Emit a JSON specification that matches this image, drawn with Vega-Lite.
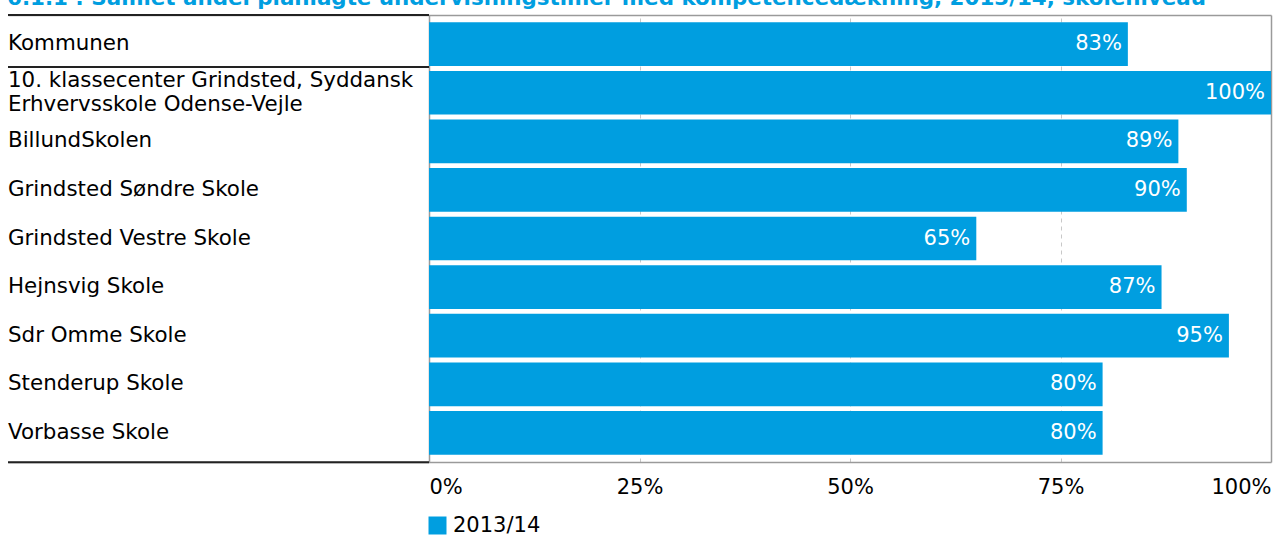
{
  "$schema": "https://vega.github.io/schema/vega-lite/v6.json",
  "autosize": {"type": "none"},
  "width": 1263,
  "height": 447,
  "padding": {"left": 8, "top": 15, "right": 2, "bottom": 76},
  "background": "white",
  "title": {
    "text": "6.1.1 : Samlet andel planlagte undervisningstimer med kompetencedækning, 2013/14, skoleniveau",
    "anchor": "start",
    "font": "DejaVu Sans",
    "fontSize": 21.4,
    "fontWeight": "bold",
    "color": "#009EE0",
    "baseline": "alphabetic",
    "offset": -12
  },
  "config": {
    "view": {"stroke": null},
    "font": "DejaVu Sans"
  },
  "data": {
    "values": [
      {"school": "Kommunen", "value": 0.83, "year": "2013/14"},
      {"school": "10. klassecenter Grindsted, Syddansk|Erhvervsskole Odense-Vejle", "value": 1.0, "year": "2013/14"},
      {"school": "BillundSkolen", "value": 0.89, "year": "2013/14"},
      {"school": "Grindsted Søndre Skole", "value": 0.90, "year": "2013/14"},
      {"school": "Grindsted Vestre Skole", "value": 0.65, "year": "2013/14"},
      {"school": "Hejnsvig Skole", "value": 0.87, "year": "2013/14"},
      {"school": "Sdr Omme Skole", "value": 0.95, "year": "2013/14"},
      {"school": "Stenderup Skole", "value": 0.80, "year": "2013/14"},
      {"school": "Vorbasse Skole", "value": 0.80, "year": "2013/14"}
    ]
  },
  "encoding": {
    "y": {
      "field": "school",
      "type": "nominal",
      "sort": null,
      "axis": null,
      "scale": {"paddingInner": 0.1, "paddingOuter": 0.15}
    }
  },
  "layer": [
    {
      "mark": {"type": "bar"},
      "encoding": {
        "x": {
          "field": "value",
          "type": "quantitative",
          "scale": {"domain": [-0.5, 1], "nice": false, "zero": false},
          "axis": {
            "orient": "bottom",
            "values": [0, 0.25, 0.5, 0.75, 1],
            "format": ".0%",
            "title": null,
            "ticks": false,
            "domain": true,
            "domainColor": "#9a9a9a",
            "domainWidth": 1.5,
            "grid": true,
            "gridColor": {"condition": {"test": "datum.value == 0 || datum.value == 1", "value": "#9a9a9a"}, "value": "#c8c8c8"},
            "gridDash": {"condition": {"test": "datum.value == 0 || datum.value == 1", "value": []}, "value": [4, 4]},
            "gridWidth": {"condition": {"test": "datum.value == 0 || datum.value == 1", "value": 1.5}, "value": 1},
            "labelFontSize": 21,
            "labelColor": "#000000",
            "labelPadding": 14,
            "labelFlush": false,
            "labelAlign": {"expr": "datum.value == 0 ? 'left' : (datum.value == 1 ? 'right' : 'center')"}
          }
        },
        "x2": {"datum": 0},
        "color": {
          "field": "year",
          "type": "nominal",
          "scale": {"range": ["#009EE0"]},
          "legend": {
            "title": null,
            "orient": "none",
            "legendX": 419,
            "legendY": 500,
            "symbolType": "square",
            "symbolSize": 324,
            "symbolStrokeWidth": 0,
            "labelFontSize": 21,
            "labelColor": "#000000",
            "labelOffset": 5,
            "padding": 0
          }
        }
      }
    },
    {
      "mark": {"type": "text", "align": "right", "baseline": "middle", "dx": -6, "color": "white", "fontSize": 21},
      "encoding": {
        "x": {
          "field": "value",
          "type": "quantitative",
          "axis": {
            "orient": "top",
            "title": null,
            "labels": false,
            "ticks": false,
            "grid": false,
            "domain": true,
            "domainColor": "#9a9a9a",
            "domainWidth": 1.5
          }
        },
        "text": {"field": "value", "type": "quantitative", "format": ".0%"}
      }
    },
    {
      "mark": {"type": "text", "align": "left", "baseline": "middle", "fontSize": 21.4, "color": "#000000", "lineBreak": "|", "lineHeight": 24, "dy": {"expr": "indexof(datum.school, '|') >= 0 ? -12 : 0"}},
      "encoding": {
        "x": {"datum": -0.5, "type": "quantitative", "axis": null},
        "text": {"field": "school", "type": "nominal"}
      }
    },
    {
      "transform": [{"filter": "datum.school == 'Kommunen'"}],
      "mark": {"type": "rule", "color": "#222222", "strokeWidth": 2},
      "encoding": {
        "x": {"datum": -0.5, "type": "quantitative", "axis": null},
        "x2": {"datum": 0},
        "y": {"field": "school", "type": "nominal", "sort": null, "bandPosition": -0.167}
      }
    },
    {
      "transform": [{"filter": "datum.school == 'Kommunen'"}],
      "mark": {"type": "rule", "color": "#222222", "strokeWidth": 2},
      "encoding": {
        "x": {"datum": -0.5, "type": "quantitative", "axis": null},
        "x2": {"datum": 0},
        "y": {"field": "school", "type": "nominal", "sort": null, "bandPosition": 1.02}
      }
    },
    {
      "transform": [{"filter": "datum.school == 'Vorbasse Skole'"}],
      "mark": {"type": "rule", "color": "#222222", "strokeWidth": 2},
      "encoding": {
        "x": {"datum": -0.5, "type": "quantitative", "axis": null},
        "x2": {"datum": 0},
        "y": {"field": "school", "type": "nominal", "sort": null, "bandPosition": 1.17}
      }
    }
  ],
  "resolve": {"axis": {"x": "independent"}}
}
